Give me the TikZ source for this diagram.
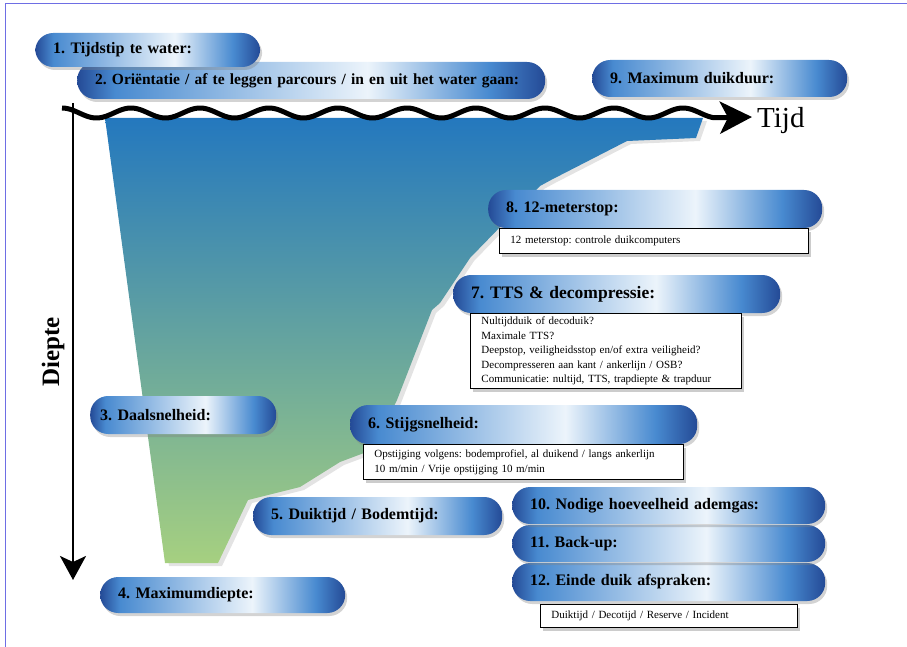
\documentclass[tikz,border=0pt]{standalone}
\usepackage{fontspec}
\setmainfont{Liberation Serif}
\usetikzlibrary{positioning,shadows,arrows.meta}
\frenchspacing

\definecolor{pilldark}{RGB}{36,74,150}
\definecolor{pillmid}{RGB}{72,138,208}
\definecolor{pilllight}{RGB}{236,244,251}
\definecolor{watertop}{RGB}{36,120,190}
\definecolor{watermid}{RGB}{92,160,176}
\definecolor{waterbottom}{RGB}{166,208,128}
\definecolor{framecol}{RGB}{110,110,228}

\pgfdeclarehorizontalshading{pillshade}{100bp}{color(0bp)=(pilldark); color(25bp)=(pilldark); color(29bp)=(pillmid); color(56bp)=(pilllight); color(69bp)=(pillmid); color(75bp)=(pilldark); color(100bp)=(pilldark)}

\tikzset{
  pill/.style={shade, shading=pillshade, rounded corners=18pt,
    drop shadow={opacity=0.35, shadow xshift=2pt, shadow yshift=-3pt},
    minimum height=37pt, inner xsep=18pt, inner ysep=0pt, text width=#1,
    align=left, anchor=west, font=\bfseries\fontsize{16}{18}\selectfont},
  infobox/.style={draw, line width=0.9pt, fill=white,
    drop shadow={opacity=0.4, shadow xshift=3pt, shadow yshift=-3pt},
    inner xsep=11pt, inner ysep=0pt, text width=#1, align=left,
    font=\fontsize{11}{14.5}\selectfont},
  water/.style={shade, top color=watertop, middle color=watermid, bottom color=waterbottom,
    drop shadow={opacity=0.22, shadow xshift=4pt, shadow yshift=-3pt}},
  wave/.style={line width=5pt, line join=round, -{Stealth[length=32pt, width=32pt, inset=8pt]}},
  depthaxis/.style={line width=2.5pt, -{Stealth[length=24pt, width=26pt, inset=6pt]}}
}

\begin{document}
\begin{tikzpicture}[x=1pt,y=-1pt]
\useasboundingbox (0,0) rectangle (907,647);
\draw[framecol, line width=1pt] (5,647) -- (5,4) -- (907,4);

% duikprofiel
\path[water] (105,118) -- (703,118) -- (696,138) -- (627,141) -- (551,180) -- (540,186)
  -- (470,258) -- (440,303) -- (432,310) -- (397,400) -- (372,450) -- (340,462)
  -- (300,487) -- (248,500) -- (218,563) -- (165,563) -- cycle;

% assen
\coordinate (dtop) at (73,103);
\coordinate (dend) at (73,580);
\coordinate (wend) at (752,117);
\draw[depthaxis] (dtop) -- (dend);
\draw[wave] plot[domain=62:714, samples=250] (\x,{113-5*cos((\x-62)/69*360)}) -- (wend);
\node[inner sep=0pt, anchor=west, font=\fontsize{29}{30}\selectfont] (tijd) at (757,120.5) {Tijd};
\node[inner sep=0pt, rotate=90, font=\bfseries\fontsize{25}{26}\selectfont] (diepte) at (53,352) {Diepte};

% labels
\node[pill=432pt, font=\bfseries\fontsize{15.5}{18}\selectfont] (p2) at (77,80.5) {2. Oriëntatie / af te leggen parcours / in en uit het water gaan:};
\node[pill=189pt, minimum height=34pt] (p1) at (35,50) {1. Tijdstip te water:};
\node[pill=219pt] (p9) at (592,78.5) {9. Maximum duikduur:};
\node[pill=298pt, minimum height=38pt] (p8) at (488,209) {8. 12-meterstop:};
\node[infobox=287pt, minimum height=25pt, below right=0pt and 11pt of p8.south west] (b8)
  {12 meterstop: controle duikcomputers};
\node[pill=291pt, minimum height=38pt, font=\bfseries\fontsize{17.5}{19}\selectfont] (p7) at (453,294) {7. TTS \& decompressie:};
\node[infobox=249pt, minimum height=75pt, below right=0pt and 17pt of p7.south west] (b7)
  {Nultijdduik of decoduik?\\
   Maximale TTS?\\
   Deepstop, veiligheidsstop en/of extra veiligheid?\\
   Decompresseren aan kant / ankerlijn / OSB?\\
   Communicatie: nultijd, TTS, trapdiepte \& trapduur};
\node[pill=166pt, inner xsep=10pt, minimum height=38pt] (p3) at (90,415) {3. Daalsnelheid:};
\node[pill=311pt, minimum height=39pt] (p6) at (350,424.5) {6. Stijgsnelheid:};
\node[infobox=298pt, minimum height=35pt, below right=0pt and 13pt of p6.south west] (b6)
  {Opstijging volgens: bodemprofiel, al duikend / langs ankerlijn\\
   10 m/min / Vrije opstijging 10 m/min};
\node[pill=213pt, minimum height=38pt] (p5) at (253,516) {5. Duiktijd / Bodemtijd:};
\node[pill=277pt, minimum height=38pt] (p12) at (512,582) {12. Einde duik afspraken:};
\node[pill=277pt] (p11) at (512,543.5) {11. Back-up:};
\node[pill=277pt] (p10) at (512,505.5) {10. Nodige hoeveelheid ademgas:};
\node[infobox=235pt, minimum height=23pt, below right=3pt and 28pt of p12.south west] (b12)
  {Duiktijd / Decotijd / Reserve / Incident};
\node[pill=209pt, minimum height=36pt] (p4) at (100,595) {4. Maximumdiepte:};
\end{tikzpicture}
\end{document}
